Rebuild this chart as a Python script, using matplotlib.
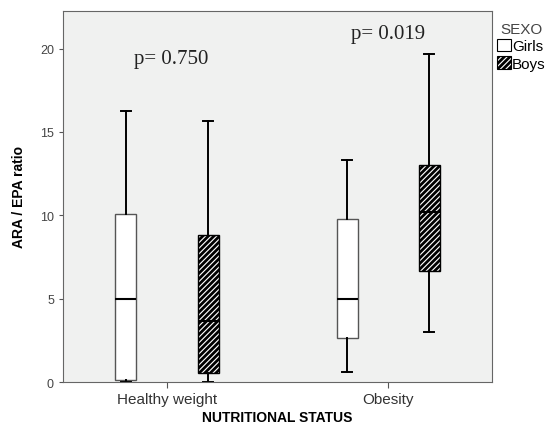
import numpy as np
import matplotlib
matplotlib.use('Agg')
import matplotlib.pyplot as plt
from matplotlib.patches import Patch

groups = ['Healthy weight', 'Obesity']
sexes = ['Girls', 'Boys']

# five-number summaries: [group][sex]
whislo = [[0.0, 0.0], [0.6, 3.0]]
q1 = [[0.15, 0.55], [2.65, 6.65]]
med = [[5.0, 3.67], [5.0, 10.2]]
q3 = [[10.1, 8.8], [9.75, 13.0]]
whishi = [[16.26, 15.66], [13.3, 19.7]]

p_values = ['p= 0.750', 'p= 0.019']
p_heights = [19.4, 20.9]

plt.rcParams['font.family'] = ['Liberation Sans', 'DejaVu Sans']
plt.rcParams['hatch.linewidth'] = 2.0

fig = plt.figure(figsize=(5.56, 4.27), dpi=100)
ax = fig.add_axes([0.1133, 0.103, 0.772, 0.869])
ax.set_facecolor('#f0f1f0')

offset = 0.186
stats = []
positions = []
for g in range(len(groups)):
    for s in range(len(sexes)):
        stats.append(dict(med=med[g][s], q1=q1[g][s], q3=q3[g][s],
                          whislo=whislo[g][s], whishi=whishi[g][s], fliers=[]))
        positions.append(g + (s - 0.5) * 2 * offset)

bp = ax.bxp(stats, positions=positions, widths=0.095, patch_artist=True,
            showfliers=False,
            boxprops=dict(edgecolor='#555555', linewidth=1.0),
            medianprops=dict(color='black', linewidth=1.5),
            whiskerprops=dict(color='black', linewidth=1.4),
            capprops=dict(color='black', linewidth=1.4),
            capwidths=0.045)
for i, box in enumerate(bp['boxes']):
    box.set_facecolor('white')
    if i % 2 == 1:
        box.set_hatch('//////')
        box.set_edgecolor('black')

for g, (txt, h) in enumerate(zip(p_values, p_heights)):
    ax.text(g + 0.02 * (1 - g), h, txt, ha='center', va='center', fontsize=15,
            family=['Liberation Serif', 'DejaVu Serif'], color='#222222')

ax.set_xlim(-0.47, 1.47)
ax.set_ylim(0, 22.26)
ax.set_yticks([0, 5, 10, 15, 20])
ax.set_xticks([0, 1])
ax.set_xticklabels(groups, fontsize=11, color='#333333')
ax.tick_params(axis='y', labelsize=9, colors='#555555', length=3, labelcolor='#444444')
ax.tick_params(axis='x', length=4, pad=3, colors='#555555', labelcolor='#333333')
for sp in ax.spines.values():
    sp.set_color('#666666')
ax.set_ylabel('ARA / EPA ratio', fontsize=10, fontweight='bold', labelpad=10)
ax.set_xlabel('NUTRITIONAL STATUS', fontsize=10, fontweight='bold', labelpad=3)

handles = [Patch(facecolor='white', edgecolor='black', linewidth=0.8),
           Patch(facecolor='white', edgecolor='black', hatch='//////', linewidth=0.8)]
leg = fig.legend(handles, sexes, title='SEXO', loc='upper left',
                 bbox_to_anchor=(0.88, 0.965), frameon=False, fontsize=11,
                 title_fontsize=11, handlelength=0.9, handleheight=0.9,
                 handletextpad=0.1, labelspacing=0.2, borderpad=0.0)
leg.get_title().set_color('#444444')

fig.savefig('out.png', dpi=100)
